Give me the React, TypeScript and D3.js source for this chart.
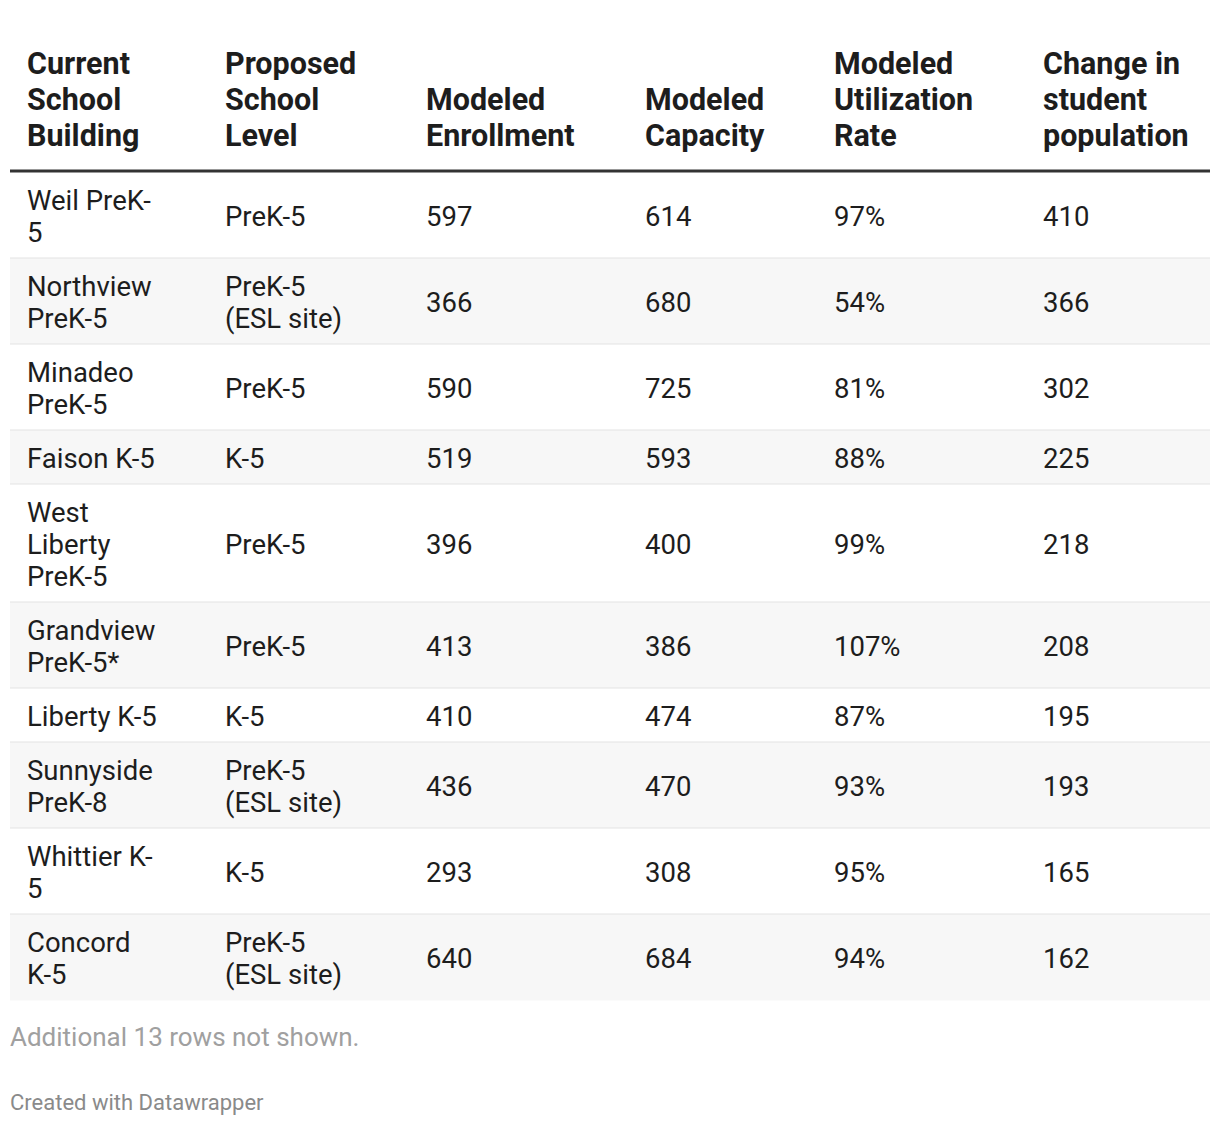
import React from "react";
import * as d3 from "d3";

const headers = [
  "Current School Building",
  "Proposed School Level",
  "Modeled Enrollment",
  "Modeled Capacity",
  "Modeled Utilization Rate",
  "Change in student population",
];
const schools = [
  "Weil PreK-5",
  "Northview PreK-5",
  "Minadeo PreK-5",
  "Faison K-5",
  "West Liberty PreK-5",
  "Grandview PreK-5*",
  "Liberty K-5",
  "Sunnyside PreK-8",
  "Whittier K-5",
  "Concord K-5",
];
const levels = [
  "PreK-5",
  "PreK-5 (ESL site)",
  "PreK-5",
  "K-5",
  "PreK-5",
  "PreK-5",
  "K-5",
  "PreK-5 (ESL site)",
  "K-5",
  "PreK-5 (ESL site)",
];
const enrollment = [597, 366, 590, 519, 396, 413, 410, 436, 293, 640];
const capacity = [614, 680, 725, 593, 400, 386, 474, 470, 308, 684];
const utilization = [97, 54, 81, 88, 99, 107, 87, 93, 95, 94];
const change = [410, 366, 302, 225, 218, 208, 195, 193, 165, 162];
const footNote = "Additional 13 rows not shown.";
const credit = "Created with Datawrapper";

const W = 1220;
const H = 1126;
const tableLeft = 10;
const tableRight = 1210;
const colLefts = [10, 208, 409, 628, 817, 1026];
const headWrap = [150, 150, 190, 160, 160, 160];
const bodyWrap = [132, 135, 190, 160, 180, 165];
const pad = 17;
const bodyFont = 27.5;
const headFont = 30.5;
const bodyLH = 32;
const headLH = 36;
const FONT = "Roboto, 'Noto Sans', sans-serif";

let ctx: CanvasRenderingContext2D | null = null;
function measure(t: string, font: string) {
  if (!ctx) ctx = document.createElement("canvas").getContext("2d");
  ctx!.font = font;
  return ctx!.measureText(t).width;
}

function wrap(text: string, maxW: number, font: string): string[] {
  const parts: { s: string; glue: string }[] = [];
  text.split(" ").forEach((w, wi) => {
    const segs = w.match(/[^-]+-?|-/g) || [w];
    segs.forEach((s, si) => parts.push({ s, glue: si === 0 && wi > 0 ? " " : "" }));
  });
  const lines: string[] = [];
  let cur = "";
  parts.forEach((p) => {
    if (cur === "") {
      cur = p.s;
      return;
    }
    const cand = cur + p.glue + p.s;
    if (measure(cand.trimEnd(), font) <= maxW) cur = cand;
    else {
      lines.push(cur);
      cur = p.s;
    }
  });
  if (cur) lines.push(cur);
  return lines;
}

export default function App() {
  const bodyFontStr = `400 ${bodyFont}px Roboto`;
  const headFontStr = `700 ${headFont}px Roboto`;
  const fmtPct = (v: number) => d3.format("d")(v) + "%";

  const rows = schools.map((s, i) => [
    s,
    levels[i],
    d3.format("d")(enrollment[i]),
    d3.format("d")(capacity[i]),
    fmtPct(utilization[i]),
    d3.format("d")(change[i]),
  ]);

  const headLines = headers.map((h, c) => wrap(h, headWrap[c], headFontStr));
  const headBottom = 169.5;

  const rowLines = rows.map((r) => r.map((cell, c) => wrap(cell, bodyWrap[c], bodyFontStr)));
  const rowHeights = rowLines.map((r) => (d3.max(r, (l) => l.length) || 1) * bodyLH + 22);
  const bodyTop = 172.5;
  const rowTops = [bodyTop, ...Array.from(d3.cumsum(rowHeights)).map((v) => bodyTop + v)];
  const bodyBottom = rowTops[rowTops.length - 1];

  return (
    <svg
      width={W}
      height={H}
      style={{ position: "absolute", left: 0, top: 0, display: "block", background: "#fff" }}
      fontFamily={FONT}
    >
      <rect x={0} y={0} width={W} height={H} fill="#fff" />
      {headLines.map((lines, c) =>
        lines.map((ln, li) => (
          <text
            key={`h${c}-${li}`}
            x={colLefts[c] + pad}
            y={headBottom - 34.5 - (lines.length - 1 - li) * headLH}
            dy="0.35em"
            fontSize={headFont}
            fontWeight={700}
            fill="#1d1d1d"
          >
            {ln}
          </text>
        ))
      )}
      {rowLines.map((cells, r) => {
        const top = rowTops[r];
        const h = rowHeights[r];
        return (
          <g key={`r${r}`}>
            <rect
              x={tableLeft}
              y={top}
              width={tableRight - tableLeft}
              height={h}
              fill={r % 2 === 1 ? "#f7f7f7" : "#ffffff"}
            />
            {r < rowLines.length - 1 && (
              <line x1={tableLeft} x2={tableRight} y1={top + h} y2={top + h} stroke="#e3e3e3" strokeWidth={2} />
            )}
            {cells.map((lines, c) => {
              const startY = top + h / 2 - ((lines.length - 1) * bodyLH) / 2;
              return lines.map((ln, li) => (
                <text
                  key={`c${r}-${c}-${li}`}
                  x={colLefts[c] + pad}
                  y={startY + li * bodyLH + 1}
                  dy="0.35em"
                  fontSize={bodyFont}
                  fill="#1d1d1d"
                >
                  {ln}
                </text>
              ));
            })}
          </g>
        );
      })}
      <line x1={tableLeft} x2={tableRight} y1={171} y2={171} stroke="#333" strokeWidth={3} />
      <text x={10} y={bodyBottom + 36} dy="0.35em" fontSize={26} fill="#a0a0a0">
        {footNote}
      </text>
      <text x={10} y={1102} dy="0.35em" fontSize={22} fill="#8a8a8a">
        {credit}
      </text>
    </svg>
  );
}
